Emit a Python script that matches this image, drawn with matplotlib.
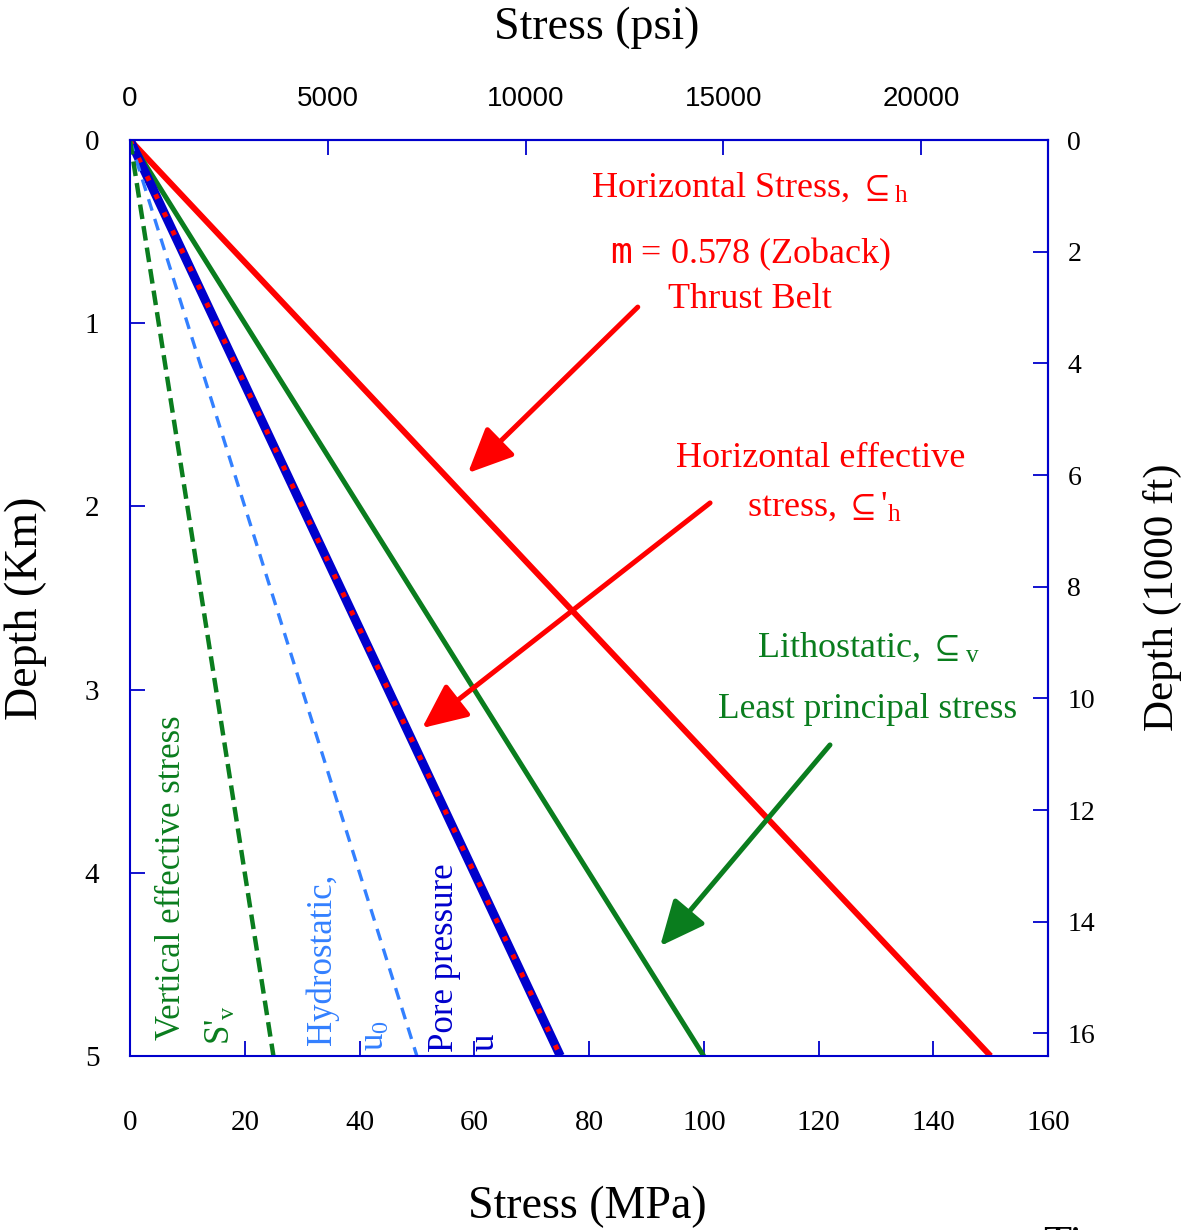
import numpy as np
import matplotlib
matplotlib.use("Agg")
import matplotlib.pyplot as plt

plt.rcParams['font.family'] = ['Liberation Serif', 'DejaVu Sans']
plt.rcParams['mathtext.fontset'] = 'custom'
plt.rcParams['mathtext.rm'] = 'Liberation Serif'
plt.rcParams['mathtext.it'] = 'Liberation Serif:italic'
plt.rcParams['mathtext.sf'] = 'DejaVu Sans Mono'
plt.rcParams['mathtext.fallback'] = 'stix'

# depth (km) and stress (MPa) end points of each profile
depth_km = [0, 5]
sh_total = [0, 150]       # horizontal stress
sv_total = [0, 100]       # lithostatic
pore = [0, 75]            # pore pressure / horizontal effective
hydro = [0, 50]           # hydrostatic
sv_eff = [0, 25]          # vertical effective

MPA_TO_PSI = 145.038
KM_TO_KFT = 3.28084

red = '#ff0000'
green = '#0a7d1e'
dblue = '#0000cc'
lblue = '#3380ff'

fig = plt.figure(figsize=(11.91, 12.30), dpi=100)
ax = fig.add_axes([130/1191, 1 - 1056/1230, 918/1191, 916/1230])

ax.plot(sh_total, depth_km, color=red, lw=4.3, solid_capstyle='butt')
ax.plot(sv_total, depth_km, color=green, lw=3.6, solid_capstyle='butt')
ax.plot(pore, depth_km, color=dblue, lw=6.5, solid_capstyle='butt')
ax.plot(pore, depth_km, color=red, lw=3.6, linestyle=(0, (1.0, 3.0)), dash_capstyle='butt')
ax.plot(hydro, depth_km, color=lblue, lw=2.4, linestyle=(0, (3.6, 2.6)))
ax.plot(sv_eff, depth_km, color=green, lw=3.2, linestyle=(0, (3.3, 1.6)))

ax.set_xlim(0, 160)
ax.set_ylim(5, 0)
ax.set_xticks(np.arange(0, 161, 20))
ax.set_yticks(np.arange(0, 6, 1))

for s in ax.spines.values():
    s.set_color(dblue)
    s.set_linewidth(1.5)
ax.tick_params(axis='x', direction='in', length=11, width=1.3, color=dblue,
               pad=39, labelsize=21, top=False)
ax.tick_params(axis='y', direction='in', length=11, width=1.3, color=dblue,
               pad=22, labelsize=21, right=False)

ax.set_xlabel('Stress (MPa)', fontsize=33)
ax.xaxis.set_label_coords(0.498, -0.141)
ax.set_ylabel('Depth (Km)', fontsize=33)
ax.yaxis.set_label_coords(-0.090, 0.489)

top = ax.secondary_xaxis('top', functions=(lambda x: x * MPA_TO_PSI, lambda x: x / MPA_TO_PSI))
top.set_xticks(np.arange(0, 20001, 5000))
top.tick_params(direction='in', length=11, width=1.3, color=dblue, pad=20)
for lab in top.get_xticklabels():
    lab.set_family('Liberation Sans')
    lab.set_fontsize(20)
top.spines['top'].set_color(dblue)
top.spines['top'].set_linewidth(1.5)

right = ax.secondary_yaxis('right', functions=(lambda y: y * KM_TO_KFT, lambda y: y / KM_TO_KFT))
right.set_yticks(np.arange(0, 17, 2))
right.tick_params(direction='in', length=11, width=1.3, color=dblue, pad=14, labelsize=20)
right.spines['right'].set_color(dblue)
right.spines['right'].set_linewidth(1.5)

fig.text(597/1191, 1 - 28/1230, 'Stress (psi)', fontsize=33, ha='center', va='center')
fig.text(1162/1191, 1 - 597/1230, 'Depth (1000 ft)', fontsize=31, rotation=90,
         ha='center', va='center')

# annotation text
ax.text(108.1, 0.262, 'Horizontal Stress, $\\subseteq_\\mathrm{h}$', color=red, fontsize=26,
        ha='center', va='center')
ax.text(108.1, 0.622, '$\\mathsf{m}$ = 0.578 (Zoback)', color=red, fontsize=26,
        ha='center', va='center')
ax.text(108.1, 0.873, 'Thrust Belt', color=red, fontsize=26, ha='center', va='center')
ax.text(120.3, 1.741, 'Horizontal effective', color=red, fontsize=26, ha='center', va='center')
ax.text(121.0, 2.003, "stress, $\\subseteq$'$_\\mathrm{h}$", color=red, fontsize=26,
        ha='center', va='center')
ax.text(128.6, 2.773, 'Lithostatic, $\\subseteq_\\mathrm{v}$', color=green, fontsize=26,
        ha='center', va='center')
ax.text(128.6, 3.11, 'Least principal stress', color=green, fontsize=25.5,
        ha='center', va='center')

ax.text(7.3, 4.913, 'Vertical effective stress', color=green, fontsize=25,
        rotation=90, ha='center', va='bottom')
ax.text(16.0, 4.94, "S'$_\\mathrm{v}$", color=green, fontsize=25,
        rotation=90, ha='center', va='bottom')
ax.text(33.5, 4.94, 'Hydrostatic,', color=lblue, fontsize=25,
        rotation=90, ha='center', va='bottom')
ax.text(42.7, 4.97, 'u$_\\mathrm{0}$', color=lblue, fontsize=25,
        rotation=90, ha='center', va='bottom')
ax.text(54.9, 4.98, 'Pore pressure', color=dblue, fontsize=25,
        rotation=90, ha='center', va='bottom')
ax.text(61.8, 4.97, 'u', color=dblue, fontsize=25,
        rotation=90, ha='center', va='bottom')

# arrows
arrow = '-|>,head_length=1.1,head_width=0.5'
ax.annotate('', xy=(58.9, 1.818), xytext=(88.5, 0.912),
            arrowprops=dict(arrowstyle=arrow, color=red, lw=3.6, mutation_scale=25,
                            shrinkA=0, shrinkB=0))
ax.annotate('', xy=(50.9, 3.210), xytext=(101.1, 1.981),
            arrowprops=dict(arrowstyle=arrow, color=red, lw=3.6, mutation_scale=25,
                            shrinkA=0, shrinkB=0))
ax.annotate('', xy=(92.4, 4.400), xytext=(122.0, 3.302),
            arrowprops=dict(arrowstyle=arrow, color=green, lw=3.6, mutation_scale=25,
                            shrinkA=0, shrinkB=0))

fig.text(1043/1191, 1 - 1226/1230, 'Ti', fontsize=33, va='top', ha='left')

fig.savefig('out.png', dpi=100)
